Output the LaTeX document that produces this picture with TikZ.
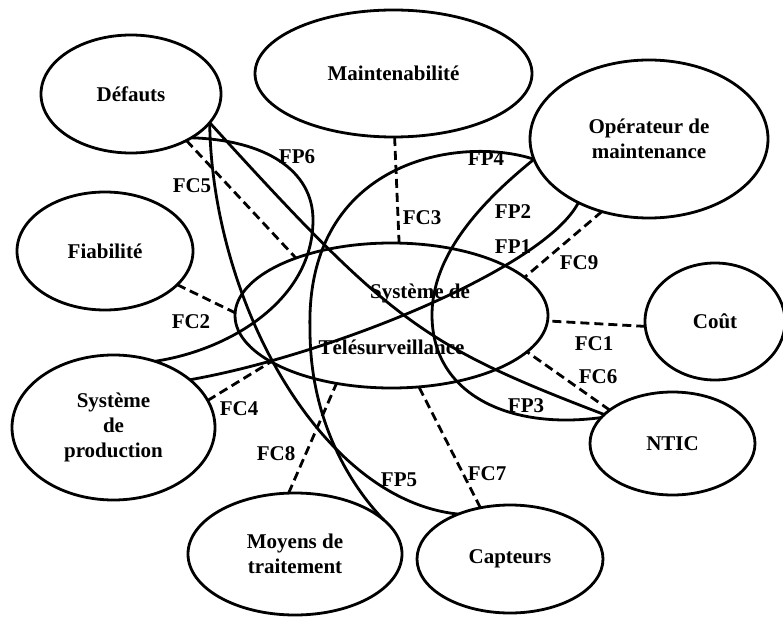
\documentclass[tikz,border=0pt]{standalone}
\usepackage{fontspec}
\setmainfont{Liberation Serif}
\usetikzlibrary{shapes.geometric}
\begin{document}
\begin{tikzpicture}[x=1pt,y=-1pt,
  ell/.style={ellipse,draw,line width=2.8pt,inner sep=0pt,outer sep=0pt,align=center,font=\fontsize{21}{25}\selectfont\bfseries},
  lbl/.style={font=\fontsize{21}{25}\selectfont\bfseries,inner sep=0pt},
  fc/.style={line width=2.8pt,dash pattern=on 9pt off 5pt},
  fp/.style={line width=2.8pt}]
\useasboundingbox (0,0) rectangle (783,617);
% ellipses
\node[ell,minimum width=180pt,minimum height=118pt] (def) at (131,94) {Défauts};
\node[ell,minimum width=277pt,minimum height=127pt] (mai) at (393.5,73.5) {Maintenabilité};
\node[ell,minimum width=238pt,minimum height=158pt] (ope) at (649,139) {Opérateur de\\maintenance};
\node[ell,minimum width=176pt,minimum height=118pt] (fia) at (105,251) {Fiabilité};
\node[ell,minimum width=313pt,minimum height=145pt] (sys) at (391.5,315.5) {};
\node[ell,minimum width=140pt,minimum height=117pt] (cou) at (715,321.5) {Coût};
\node[ell,minimum width=165pt,minimum height=103pt] (nti) at (672.5,443.5) {NTIC};
\node[ell,minimum width=186pt,minimum height=108pt] (cap) at (510,559) {Capteurs};
\node[ell,minimum width=214pt,minimum height=122pt] (moy) at (295,554) {Moyens de\\traitement};
\node[ell,minimum width=203pt,minimum height=145pt] (pro) at (113.5,427.5) {Système\\de\\production};
\node[lbl] (sysa) at (420,293) {Système de};
\node[lbl] (sysb) at (391.5,347) {Télésurveillance};
% dashed constraints
\draw[fc] (def.-40.8) -- (sys.149.2);
\draw[fc] (mai.-89.5) -- (sys.84.9);
\draw[fc] (ope.-123.5) -- (sys.16.3);
\draw[fc] (fia.-25) -- (sys.179.1);
\draw[fc] (pro.16.2) -- (sys.201.4);
\draw[fc] (moy.96.4) -- (sys.-129.1);
\draw[fc] (cap.120.5) -- (sys.-69.9);
\draw[fc] (nti.152.1) -- (sys.-15.5);
\draw[fc] (cou.184.5) -- (sys.-2.7);
% solid functions
\draw[fp] (def.-36.7) .. controls (265,140) and (313,170) .. (313,220)
          .. controls (313,300) and (230,350) .. (pro.58.4);
\draw[fp] (def.-20) .. controls (212,300) and (320,500) .. (cap.139.8);
\draw[fp] (ope.190) .. controls (460,135) and (305,160) .. (310,330)
          .. controls (310,420) and (350,485) .. (moy.21.7);
\draw[fp] (ope.190) .. controls (490,195) and (432,250) .. (432,315)
          .. controls (432,395) and (510,430) .. (nti.160.7);
\draw[fp] (pro.32.2) .. controls (330,355) and (545,268) .. (ope.-138.4);
\draw[fp] (def.-20) .. controls (390,321) and (422,345) .. (nti.157);
% labels
\node[lbl] (fc5) at (192,186) {FC5};
\node[lbl] (fp6) at (297,157) {FP6};
\node[lbl] (fp4) at (486,159) {FP4};
\node[lbl] (fc3) at (422,218) {FC3};
\node[lbl] (fp2) at (513,212) {FP2};
\node[lbl] (fp1) at (513,247) {FP1};
\node[lbl] (fc9) at (579,263) {FC9};
\node[lbl] (fc2) at (191,322) {FC2};
\node[lbl] (fc4) at (239,409) {FC4};
\node[lbl] (fc8) at (276,454) {FC8};
\node[lbl] (fc1) at (594,344) {FC1};
\node[lbl] (fc6) at (598,377) {FC6};
\node[lbl] (fp3) at (526,406) {FP3};
\node[lbl] (fc7) at (487,474) {FC7};
\node[lbl] (fp5) at (399,480) {FP5};
\end{tikzpicture}
\end{document}
